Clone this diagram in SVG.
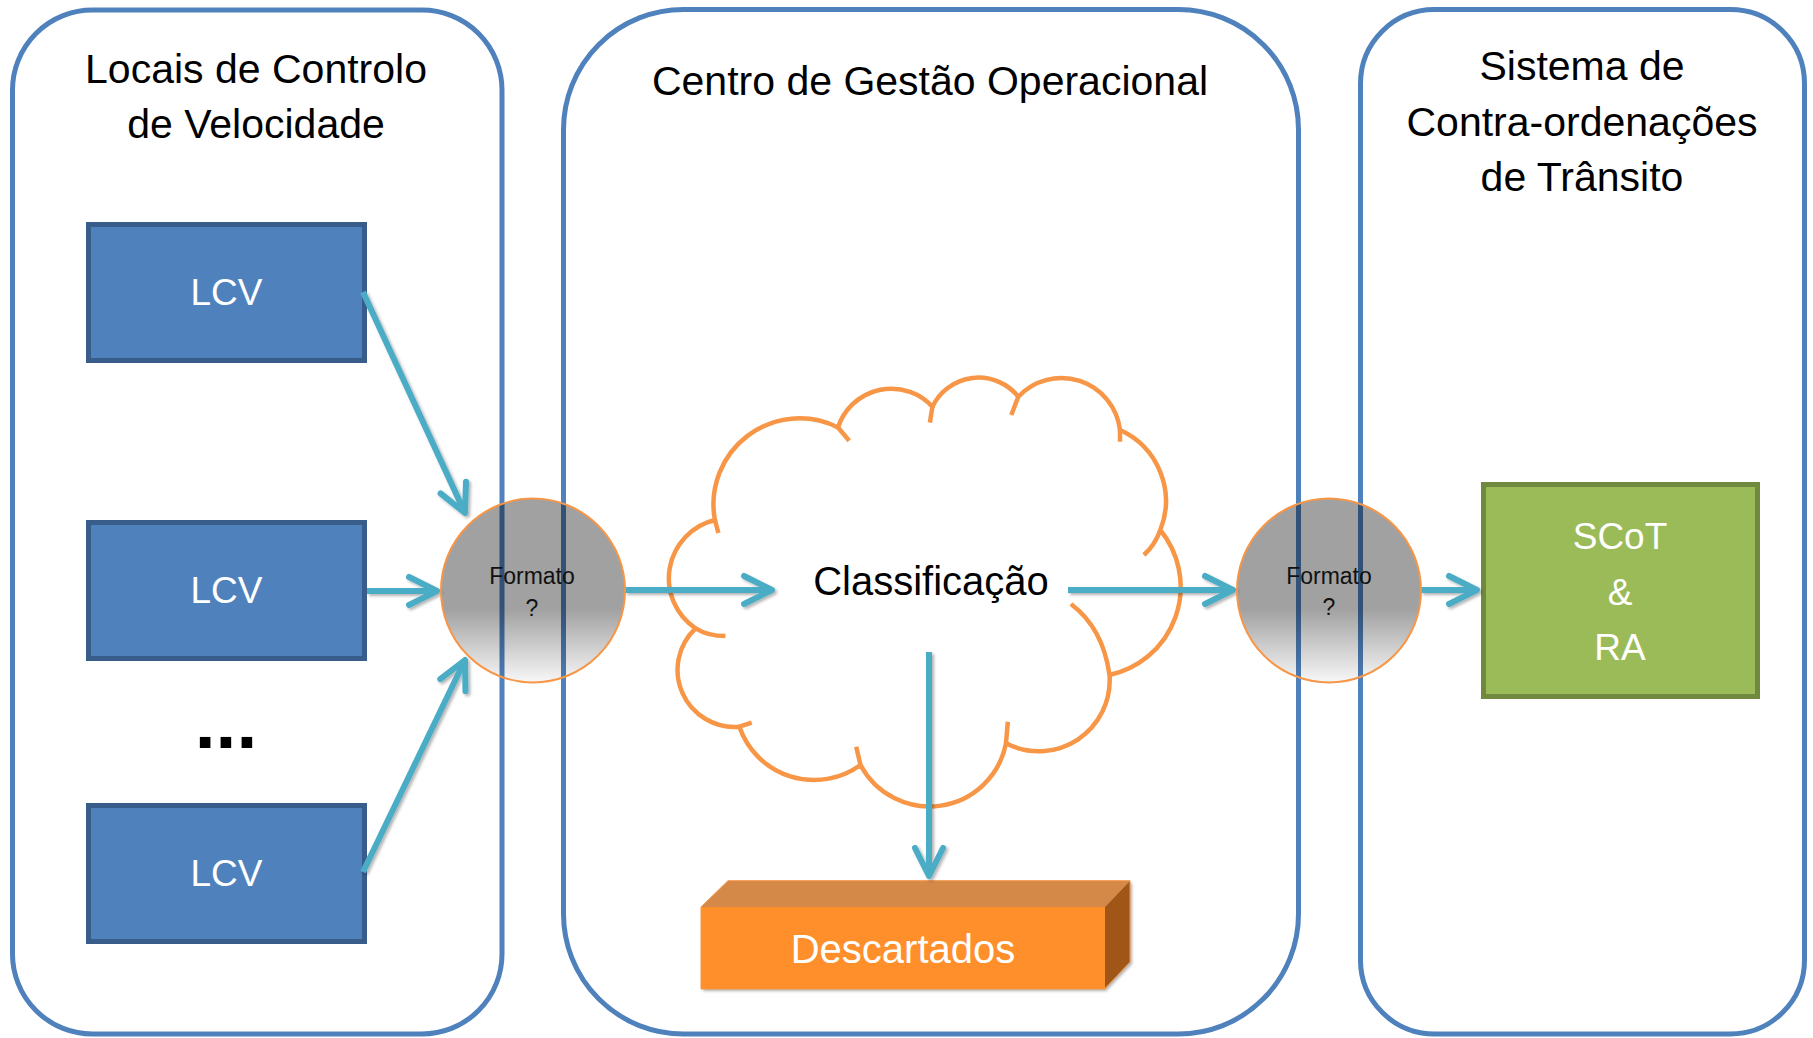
<svg xmlns="http://www.w3.org/2000/svg" width="1813" height="1038" viewBox="0 0 1813 1038">
<style>
.cont{fill:#fff;stroke:#4F81BD;stroke-width:5}
.title{font-family:"Liberation Sans",Arial,sans-serif;font-size:41px;fill:#000;text-anchor:middle}
.lcv{fill:#4F81BD;stroke:#385D8A;stroke-width:5}
.wt{font-family:"Liberation Sans",Arial,sans-serif;fill:#fff;text-anchor:middle}
.fmt{font-family:"Liberation Sans",Arial,sans-serif;font-size:23px;fill:#111;text-anchor:middle}
.circ{fill:url(#gray);stroke:#F79646;stroke-width:2}
.arr{fill:none;stroke:#4BACC6;stroke-width:6;marker-end:url(#chev)}
.cloud{fill:none;stroke:#F79646;stroke-width:4.5;stroke-linecap:butt}
</style>
<defs>
<linearGradient id="gray" x1="0" y1="0" x2="0" y2="1">
<stop offset="0" stop-color="#000" stop-opacity="0.37"/>
<stop offset="0.6" stop-color="#000" stop-opacity="0.37"/>
<stop offset="1" stop-color="#000" stop-opacity="0.03"/>
</linearGradient>
<marker id="chev" markerUnits="userSpaceOnUse" markerWidth="44" markerHeight="44" viewBox="-38 -22 44 44" refX="0" refY="0" orient="auto">
<path d="M-28,-14 L0,0 L-28,14" fill="none" stroke="#4BACC6" stroke-width="6" stroke-linecap="round" stroke-linejoin="round"/>
</marker>
<filter id="sh" filterUnits="userSpaceOnUse" x="0" y="0" width="1813" height="1038">
<feDropShadow dx="2" dy="2" stdDeviation="1.5" flood-color="#000" flood-opacity="0.3"/>
</filter>
</defs>

<g id="container-lcv">
<rect class="cont" x="12.5" y="10" width="489.5" height="1024" rx="80" ry="80"/>
<text class="title" x="256" y="83">Locais de Controlo</text>
<text class="title" x="256" y="138">de Velocidade</text>
</g>
<g id="container-cgo">
<rect class="cont" x="563.5" y="9.5" width="735" height="1024.5" rx="120" ry="120"/>
<text class="title" x="930" y="95">Centro de Gestão Operacional</text>
</g>
<g id="container-scot">
<rect class="cont" x="1360.5" y="9.5" width="444" height="1024.5" rx="74" ry="74"/>
<text class="title" x="1582" y="80">Sistema de</text>
<text class="title" x="1582" y="136">Contra-ordenações</text>
<text class="title" x="1582" y="191">de Trânsito</text>
</g>

<g id="lcv1">
<rect class="lcv" x="88.5" y="224.5" width="276" height="136"/>
<text class="wt" x="226.5" y="305" font-size="37">LCV</text>
</g>
<g id="lcv2">
<rect class="lcv" x="88.5" y="522.5" width="276" height="136"/>
<text class="wt" x="226.5" y="603" font-size="37">LCV</text>
</g>
<g id="dots">
<text x="226" y="748" font-family="Liberation Sans, Arial, sans-serif" font-weight="bold" font-size="75" text-anchor="middle" fill="#000">...</text>
</g>
<g id="lcv3">
<rect class="lcv" x="88.5" y="805.5" width="276" height="136"/>
<text class="wt" x="226.5" y="886" font-size="37">LCV</text>
</g>

<g id="classificacao">
<path class="cloud" d="M695.6,628.3 A60,60 0 0 1 714.9,520 A86,86 0 0 1 838,427.5 A56,56 0 0 1 932.4,406.7 A51,51 0 0 1 1018.3,396.7 A59,59 0 0 1 1120,430 A78,78 0 0 1 1160.3,530 A90,90 0 0 1 1109.5,675 A71,71 0 0 1 1006,743.3 A78,78 0 0 1 860.5,765 A79,79 0 0 1 739.4,726.7 A57,57 0 0 1 695.6,628.3 Z"/>
<path class="cloud" d="M695.6,628.3 Q708,636 725.4,636 M714.9,520 L718.4,533 M838,427.5 L849.2,440.7 M932.4,406.7 L929.9,422.7 M1018.3,396.7 L1011.3,415 M1120,430 L1120,441.7 M1160.3,530 Q1155,545 1143.9,555 M1070.9,604 Q1103,628 1109.5,675 M1006,743.3 L1007.8,721.7 M860.5,765 L856.2,746.7 M739.4,726.7 L751.7,722.7"/>
<text x="931" y="595" font-family="Liberation Sans, Arial, sans-serif" font-size="40" text-anchor="middle" fill="#000">Classificação</text>
</g>

<g id="descartados">
<g filter="url(#sh)">
<polygon points="701,907 1105,907 1105,989 701,989" fill="#FF8F2B"/>
<polygon points="701,907 728,880.7 1130,880.7 1105,907" fill="#D4894A"/>
<polygon points="1105,907 1130,880.7 1130,962 1105,988" fill="#A05718"/>
</g>
<polygon points="701,907 728,880.7 1130,880.7 1130,962 1105,989 701,989" fill="none" stroke="#F79646" stroke-width="1"/>
<text class="wt" x="903" y="963" font-size="40">Descartados</text>
</g>

<g id="scot">
<rect x="1483.5" y="484.5" width="274" height="212" fill="#9BBB59" stroke="#71893F" stroke-width="5"/>
<text class="wt" x="1620" y="549" font-size="37">SCoT</text>
<text class="wt" x="1620" y="605" font-size="37">&amp;</text>
<text class="wt" x="1620" y="660" font-size="37">RA</text>
</g>

<g id="connectors" filter="url(#sh)">
<line class="arr" x1="363" y1="292" x2="465" y2="513"/>
<line class="arr" x1="367" y1="591" x2="437" y2="591"/>
<line class="arr" x1="363" y1="872" x2="465" y2="660"/>
<line class="arr" x1="625" y1="590" x2="772" y2="590"/>
<line class="arr" x1="1068" y1="590" x2="1233" y2="590"/>
<line class="arr" x1="1421" y1="590" x2="1477" y2="590"/>
<line class="arr" x1="929" y1="652" x2="929" y2="876"/>
</g>

<g id="formato1">
<circle class="circ" cx="533" cy="590.5" r="92"/>
<text class="fmt" x="532" y="584">Formato</text>
<text class="fmt" x="532" y="616">?</text>
</g>
<g id="formato2">
<circle class="circ" cx="1329" cy="590.5" r="92"/>
<text class="fmt" x="1329" y="584">Formato</text>
<text class="fmt" x="1329" y="615">?</text>
</g>
</svg>
